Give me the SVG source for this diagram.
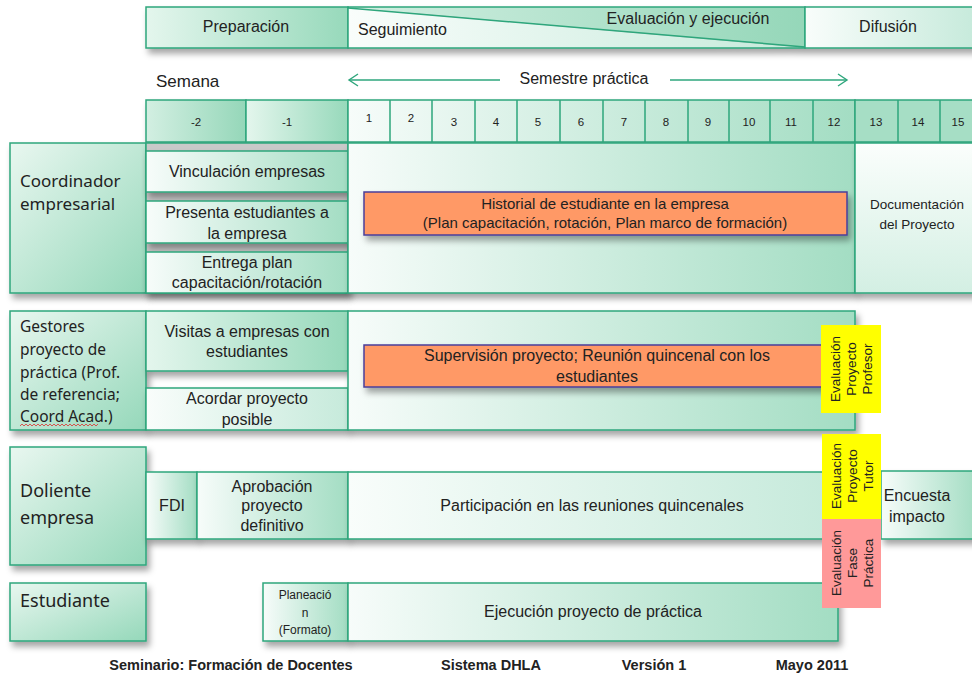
<svg xmlns="http://www.w3.org/2000/svg" width="972" height="677" viewBox="0 0 972 677">
<defs>
<linearGradient id="gH" x1="0" y1="0" x2="1" y2="0"><stop offset="0" stop-color="#e4f6ed"/><stop offset="1" stop-color="#97d9bb"/></linearGradient>
<linearGradient id="gL" x1="0" y1="0" x2="1" y2="0"><stop offset="0" stop-color="#f7fcfa"/><stop offset="1" stop-color="#a3ddc3"/></linearGradient>
<linearGradient id="gW" x1="0" y1="0" x2="1" y2="0"><stop offset="0" stop-color="#f9fdfb"/><stop offset="1" stop-color="#c6eadb"/></linearGradient>
<linearGradient id="gD" x1="0" y1="0" x2="1" y2="1"><stop offset="0" stop-color="#e9f7f0"/><stop offset="1" stop-color="#95d8ba"/></linearGradient>
<linearGradient id="gU" x1="0" y1="0" x2="1" y2="0"><stop offset="0" stop-color="#d3efe2"/><stop offset="1" stop-color="#95d7b9"/></linearGradient>
<linearGradient id="gV" x1="0" y1="0" x2="0" y2="1"><stop offset="0" stop-color="#fbfefc"/><stop offset="1" stop-color="#d3efe3"/></linearGradient>
<filter id="sh" x="-10%" y="-20%" width="130%" height="160%"><feDropShadow dx="3" dy="5" stdDeviation="3" flood-color="#000" flood-opacity="0.35"/></filter>
<marker id="chev" markerUnits="userSpaceOnUse" markerWidth="12" markerHeight="14" refX="10" refY="7" orient="auto"><path d="M1,1 L10,7 L1,13" fill="none" stroke="#2ea67c" stroke-width="1.4"/></marker>
</defs>
<style>
.b{stroke:#2ea67c;stroke-width:1.5}
.t{font-family:"Liberation Sans",Arial,sans-serif;font-size:16px;fill:#222}
.c{text-anchor:middle}
.w{font-family:"Liberation Sans",Arial,sans-serif;font-size:11.5px;fill:#222;text-anchor:middle}
.lab{font-family:"Noto Sans","Open Sans",sans-serif;fill:#222}
.r{font-family:"Liberation Sans",Arial,sans-serif;font-size:13.5px;fill:#222;text-anchor:middle}
.f{font-family:"Liberation Sans",Arial,sans-serif;font-size:14.5px;font-weight:bold;fill:#222;text-anchor:middle}
.o{fill:#ff9966;stroke:#4a3f9a;stroke-width:1.5}
</style>
<rect width="972" height="677" fill="#fff"/>

<g id="header">
<g filter="url(#sh)">
<rect x="146" y="7" width="202" height="41" fill="url(#gH)" class="b"/>
<polygon points="348,7 805,7 805,48" fill="url(#gU)"/>
<polygon points="348,8 805,48 348,48" fill="url(#gW)"/>
<rect x="348" y="7" width="457" height="41" fill="none" class="b"/>
<line x1="348" y1="8" x2="805" y2="47" class="b"/>
<rect x="805" y="7" width="172" height="41" fill="url(#gW)" class="b"/>
</g>
<text x="246" y="32" class="t c">Preparación</text>
<text x="358" y="35" class="t">Seguimiento</text>
<text x="688" y="24" class="t c">Evaluación y ejecución</text>
<text x="888" y="32" class="t c">Difusión</text>
</g>

<g id="semana">
<text x="156" y="87" class="t" style="font-size:17px">Semana</text>
<text x="584" y="84" class="t c">Semestre práctica</text>
</g>

<g id="connectors">
<line x1="500" y1="80" x2="349" y2="80" stroke="#2ea67c" stroke-width="1.4" marker-end="url(#chev)"/>
<line x1="670" y1="80" x2="847" y2="80" stroke="#2ea67c" stroke-width="1.4" marker-end="url(#chev)"/>
</g>

<g id="weeks">
<g filter="url(#sh)">
<rect x="146" y="100" width="100" height="42" fill="url(#gU)" class="b"/>
<rect x="246" y="100" width="102" height="42" fill="url(#gH)" class="b"/>
<rect x="348" y="100" width="507" height="42" fill="url(#gL)" class="b"/>
<rect x="855" y="100" width="125" height="42" fill="#a6dec5" class="b"/>
</g>
<path d="M390,100V142M432,100V142M475,100V142M517,100V142M560,100V142M603,100V142M645,100V142M688,100V142M729,100V142M770,100V142M813,100V142M898,100V142M940,100V142" class="b" fill="none"/>
<text x="196" y="126" class="w">-2</text>
<text x="287" y="126" class="w">-1</text>
<text x="369" y="122" class="w">1</text>
<text x="411" y="122" class="w">2</text>
<text x="454" y="126" class="w">3</text>
<text x="496" y="126" class="w">4</text>
<text x="538" y="126" class="w">5</text>
<text x="581" y="126" class="w">6</text>
<text x="624" y="126" class="w">7</text>
<text x="666" y="126" class="w">8</text>
<text x="708" y="126" class="w">9</text>
<text x="749" y="126" class="w">10</text>
<text x="791" y="126" class="w">11</text>
<text x="834" y="126" class="w">12</text>
<text x="876" y="126" class="w">13</text>
<text x="918" y="126" class="w">14</text>
<text x="958" y="126" class="w">15</text>
</g>

<g id="coordinador">
<rect x="10" y="143" width="136" height="150" fill="url(#gD)" class="b" filter="url(#sh)"/>
<text x="20" y="187" class="lab" style="font-size:17px">Coordinador</text>
<text x="20" y="210" class="lab" style="font-size:17px">empresarial</text>
</g>
<g id="coord-col">
<rect x="146" y="143" width="202" height="150" fill="#c9c9c9" class="b" filter="url(#sh)"/>
</g>
<g id="vinculacion">
<rect x="146" y="151" width="202" height="41" fill="url(#gL)" class="b" filter="url(#sh)"/>
<text x="247" y="177" class="t c">Vinculación empresas</text>
</g>
<g id="presenta">
<rect x="146" y="201" width="202" height="42" fill="url(#gL)" class="b" filter="url(#sh)"/>
<text x="247" y="218" class="t c">Presenta estudiantes a</text>
<text x="247" y="239" class="t c">la empresa</text>
</g>
<g id="entrega">
<rect x="146" y="252" width="202" height="41" fill="url(#gL)" class="b" filter="url(#sh)"/>
<text x="247" y="268" class="t c">Entrega plan</text>
<text x="247" y="288" class="t c">capacitación/rotación</text>
</g>
<g id="coord-bloque">
<rect x="348" y="143" width="507" height="150" fill="url(#gL)" class="b" filter="url(#sh)"/>
</g>
<g id="historial">
<rect x="364" y="192" width="483" height="43" class="o" filter="url(#sh)"/>
<text x="605" y="209" class="t c" style="font-size:15px">Historial de estudiante en la empresa</text>
<text x="605" y="228" class="t c" style="font-size:15px">(Plan capacitación, rotación, Plan marco de formación)</text>
</g>
<g id="documentacion">
<rect x="855" y="143" width="122" height="150" fill="url(#gV)" class="b" filter="url(#sh)"/>
<text x="917" y="209" class="t c" style="font-size:13.5px">Documentación</text>
<text x="917" y="229" class="t c" style="font-size:13.5px">del Proyecto</text>
</g>

<g id="gestores">
<rect x="10" y="311" width="136" height="119" fill="url(#gD)" class="b" filter="url(#sh)"/>
<text x="20" y="332" class="lab" style="font-size:15.5px">Gestores</text>
<text x="20" y="355" class="lab" style="font-size:15.5px">proyecto de</text>
<text x="20" y="378" class="lab" style="font-size:15.5px">práctica (Prof.</text>
<text x="20" y="400" class="lab" style="font-size:15.5px">de referencia;</text>
<text x="20" y="422" class="lab" style="font-size:15.5px">Coord Acad.)</text>
<path d="M20,426 l2,-2 l2,2 l2,-2 l2,2 l2,-2 l2,2 l2,-2 l2,2 l2,-2 l2,2 l2,-2 l2,2 l2,-2 l2,2 l2,-2 l2,2 l2,-2 l2,2 l2,-2 l2,2 l2,-2 l2,2 l2,-2 l2,2 l2,-2 l2,2 l2,-2 l2,2 l2,-2 l2,2 l2,-2 l2,2 l2,-2 l2,2 l2,-2 l2,2 l2,-2 l2,2 l2,-2" fill="none" stroke="#e03030" stroke-width="0.8"/>
</g>
<g id="visitas">
<rect x="146" y="311" width="202" height="60" fill="url(#gH)" class="b" filter="url(#sh)"/>
<text x="247" y="337" class="t c">Visitas a empresas con</text>
<text x="247" y="357" class="t c">estudiantes</text>
</g>
<g id="acordar">
<rect x="146" y="388" width="202" height="42" fill="url(#gW)" class="b" filter="url(#sh)"/>
<text x="247" y="404" class="t c">Acordar proyecto</text>
<text x="247" y="425" class="t c">posible</text>
</g>
<g id="gestores-bloque">
<rect x="348" y="311" width="507" height="119" fill="url(#gL)" class="b" filter="url(#sh)"/>
</g>
<g id="supervision">
<rect x="364" y="345" width="466" height="42" class="o" filter="url(#sh)"/>
<text x="597" y="361" class="t c">Supervisión proyecto; Reunión quincenal con los</text>
<text x="597" y="382" class="t c">estudiantes</text>
</g>

<g id="doliente">
<rect x="10" y="447" width="136" height="118" fill="url(#gD)" class="b" filter="url(#sh)"/>
<text x="20" y="497" class="lab" style="font-size:18px">Doliente</text>
<text x="20" y="524" class="lab" style="font-size:18px">empresa</text>
</g>
<g id="fdi">
<rect x="146" y="472" width="51" height="67" fill="url(#gL)" class="b" filter="url(#sh)"/>
<text x="172" y="511" class="t c">FDI</text>
</g>
<g id="aprobacion">
<rect x="197" y="472" width="151" height="67" fill="url(#gL)" class="b" filter="url(#sh)"/>
<text x="272" y="492" class="t c">Aprobación</text>
<text x="272" y="511" class="t c">proyecto</text>
<text x="272" y="531" class="t c">definitivo</text>
</g>
<g id="participacion">
<rect x="348" y="472" width="482" height="67" fill="url(#gW)" class="b" filter="url(#sh)"/>
<text x="592" y="511" class="t c">Participación en las reuniones quincenales</text>
</g>
<g id="encuesta">
<rect x="881" y="471" width="96" height="68" fill="url(#gL)" class="b" filter="url(#sh)"/>
<text x="917" y="501" class="t c">Encuesta</text>
<text x="917" y="522" class="t c">impacto</text>
</g>

<g id="estudiante">
<rect x="10" y="583" width="136" height="58" fill="url(#gD)" class="b" filter="url(#sh)"/>
<text x="20" y="607" class="lab" style="font-size:18px">Estudiante</text>
</g>
<g id="planeacion">
<rect x="263" y="583" width="85" height="58" fill="url(#gL)" class="b" filter="url(#sh)"/>
<text x="305" y="599" class="r" style="font-size:12px">Planeació</text>
<text x="305" y="617" class="r" style="font-size:12px">n</text>
<text x="305" y="634" class="r" style="font-size:12px">(Formato)</text>
</g>
<g id="ejecucion">
<rect x="348" y="583" width="490" height="58" fill="url(#gL)" class="b" filter="url(#sh)"/>
<text x="593" y="617" class="t c">Ejecución proyecto de práctica</text>
</g>

<g id="eval-profesor">
<rect x="821" y="325" width="60" height="88" fill="#ffff00"/>
<g transform="translate(835,369) rotate(-90)"><text x="0" y="5" class="r">Evaluación</text></g>
<g transform="translate(851,369) rotate(-90)"><text x="0" y="5" class="r">Proyecto</text></g>
<g transform="translate(867,369) rotate(-90)"><text x="0" y="5" class="r">Profesor</text></g>
</g>
<g id="eval-tutor">
<rect x="822" y="434" width="59" height="85" fill="#ffff00"/>
<g transform="translate(836,476) rotate(-90)"><text x="0" y="5" class="r">Evaluación</text></g>
<g transform="translate(852,476) rotate(-90)"><text x="0" y="5" class="r">Proyecto</text></g>
<g transform="translate(868,476) rotate(-90)"><text x="0" y="5" class="r">Tutor</text></g>
</g>
<g id="eval-fase">
<rect x="822" y="519" width="59" height="89" fill="#ff9999"/>
<g transform="translate(836,563) rotate(-90)"><text x="0" y="5" class="r">Evaluación</text></g>
<g transform="translate(852,563) rotate(-90)"><text x="0" y="5" class="r">Fase</text></g>
<g transform="translate(868,563) rotate(-90)"><text x="0" y="5" class="r">Práctica</text></g>
</g>

<g id="footer">
<text x="231" y="670" class="f">Seminario: Formación de Docentes</text>
<text x="491" y="670" class="f">Sistema DHLA</text>
<text x="654" y="670" class="f">Versión 1</text>
<text x="812" y="670" class="f">Mayo 2011</text>
</g>
</svg>
